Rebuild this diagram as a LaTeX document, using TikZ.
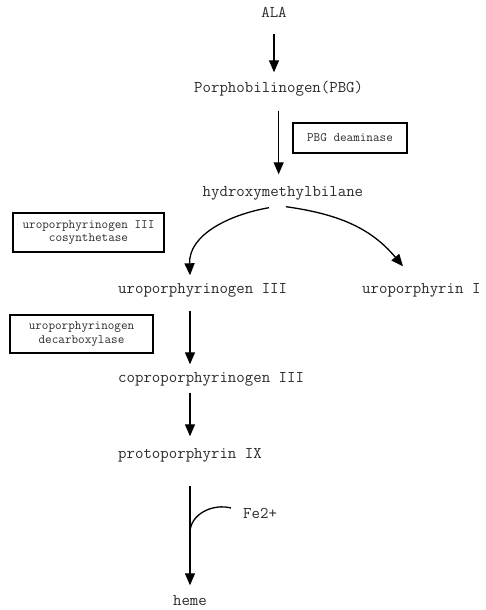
\documentclass[tikz,border=0pt]{standalone}
\usepackage{fontspec}
\usetikzlibrary{arrows.meta,positioning}
\definecolor{Ink}{HTML}{000000}
\definecolor{Muted}{HTML}{2A2A2A}
\tikzset{
  flow/.style={-{Triangle[length=12pt,width=10pt]}, draw=Ink, line width=1.3pt},
  link/.style={draw=Ink, line width=1.3pt},
  compound/.style={font=\ttfamily\fontsize{16.4}{19}\selectfont, text=Muted,
    text height=10pt, text depth=3pt, inner sep=1pt},
  enzyme/.style={draw=Ink, line width=1.2pt, align=center, text=Muted,
    font=\ttfamily\fontsize{12.8}{13.6}\selectfont, inner sep=0pt},
}

\begin{document}
\begin{tikzpicture}[x=1pt, y=-1pt]
  \useasboundingbox (0,0) rectangle (485,610);

  % Main chain, placed at the reference's text positions.
  \node[compound] (ala) at (274,14) {ALA};
  \node[compound, anchor=west] (pbg) at (193,89) {Porphobilinogen(PBG)};
  \node[compound, anchor=west] (hmb) at (201.5,193) {hydroxymethylbilane};
  \node[compound, anchor=west] (uro3) at (117,290) {uroporphyrinogen III};
  \node[compound, anchor=west] (uro1) at (361,290) {uroporphyrin I};
  \node[compound, anchor=west] (copro) at (117,379) {coproporphyrinogen III};
  \node[compound, anchor=west] (proto) at (117,455) {protoporphyrin IX};
  \node[compound] (heme) at (proto.center |- 0,602) {heme};
  \node[compound, anchor=west] (fe) at (242,515) {Fe2+};

  % Enzymes in boxes beside their steps.
  \node[enzyme, minimum width=114pt, minimum height=30pt] (deam) at (350,138) {PBG deaminase};
  \node[enzyme, minimum width=151pt, minimum height=39pt] (cosyn) at (88.5,232.5)
    {uroporphyrinogen III\\cosynthetase};
  \node[enzyme, minimum width=143pt, minimum height=38pt] (decarb) at (81.5,334)
    {uroporphyrinogen\\decarboxylase};

  % Straight steps.
  \draw[flow, shorten <=12pt, shorten >=9pt] (ala.south) -- (ala.south |- pbg.north);
  \draw[flow, shorten <=14pt, shorten >=11pt] (pbg.south) -- (pbg.south |- hmb.north);
  \draw[flow, shorten <=13pt, shorten >=7pt] (uro3.south -| proto) -- (copro.north -| proto);
  \draw[flow, shorten <=6pt, shorten >=11pt] (copro.south -| proto) -- (proto.north);
  \draw[flow, shorten <=23pt, shorten >=9pt] (proto.south) -- (heme.north);

  % Branch from hydroxymethylbilane.
  \draw[flow] ([xshift=-14pt,yshift=-7pt]hmb.south) to[out=190,in=92]
    ([yshift=7pt]uro3.north -| proto);
  \draw[flow] ([xshift=3pt,yshift=-6pt]hmb.south) to[out=-8,in=130]
    ([xshift=42pt,yshift=16pt]uro1.north west);

  % Iron joins the last step.
  \coordinate (fejoin) at ([yshift=-70pt]proto.south);
  \coordinate (feend) at ([xshift=-11pt,yshift=7pt]fe.west);
  \draw[link] (feend) to[out=165,in=90] (fejoin);
\end{tikzpicture}
\end{document}
